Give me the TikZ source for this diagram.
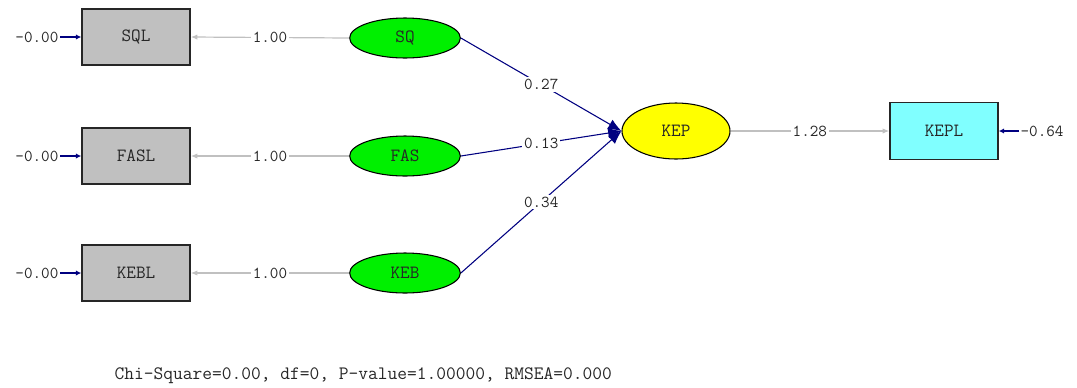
\documentclass[tikz,border=0pt]{standalone}
\usetikzlibrary{arrows.meta,shapes.geometric}
\definecolor{boxgray}{HTML}{C0C0C0}
\definecolor{latgreen}{HTML}{00F000}
\definecolor{latyellow}{HTML}{FFFF00}
\definecolor{obscyan}{HTML}{80FFFF}
\definecolor{navy}{HTML}{000080}
\definecolor{loadgray}{HTML}{C0C0C0}
\begin{document}
\begin{tikzpicture}[x=0.75pt,y=-0.75pt,
  every node/.style={font=\ttfamily\fontsize{12.5}{13}\selectfont,text=black!85},
  bigtext/.style={font=\ttfamily\fontsize{14}{15}\selectfont},
  obsbox/.style={bigtext,draw=black!85,line width=1.1pt,minimum width=81pt,minimum height=42pt,inner sep=0pt},
  latent/.style={bigtext,ellipse,draw=black,line width=0.8pt,minimum width=83pt,minimum height=30pt,inner sep=0pt,fill=latgreen},
  loading/.style={draw=loadgray,line width=0.9pt,-{Latex[length=5pt,width=4pt]}},
  path/.style={draw=navy,line width=0.8pt,-{Latex[length=10pt,width=8pt]}},
  err/.style={draw=navy,line width=1.6pt,-{Latex[length=4pt,width=4pt]}},
  lbl/.style={fill=white,inner sep=1.5pt},
  errlbl/.style={inner sep=1pt}]
\useasboundingbox (0,0) rectangle (1077,387);

% observed
\node[obsbox,fill=boxgray] (SQL) at (136,37) {SQL};
\node[obsbox,fill=boxgray] (FASL) at (136,156) {FASL};
\node[obsbox,fill=boxgray] (KEBL) at (136,273) {KEBL};
\node[obsbox,fill=obscyan,minimum height=43pt] (KEPL) at (944,131) {KEPL};

% latent
\node[latent] (SQ) at (405,38) {SQ};
\node[latent] (FAS) at (405,156) {FAS};
\node[latent] (KEB) at (405,273) {KEB};
\node[latent,fill=latyellow,minimum width=81pt,minimum height=42pt] (KEP) at (676,131) {KEP};

% error coordinates
\coordinate (eSQL) at (60,37);
\coordinate (eFASL) at (60,156);
\coordinate (eKEBL) at (60,273);
\coordinate (eKEPL) at (1019,131);

\draw[err] (eSQL) -- (SQL.west);
\draw[err] (eFASL) -- (FASL.west);
\draw[err] (eKEBL) -- (KEBL.west);
\draw[err] (eKEPL) -- (KEPL.east);
\node[errlbl,anchor=east] (lSQL) at (eSQL) {-0.00};
\node[errlbl,anchor=east] (lFASL) at (eFASL) {-0.00};
\node[errlbl,anchor=east] (lKEBL) at (eKEBL) {-0.00};
\node[errlbl,anchor=west] (lKEPL) at (eKEPL) {-0.64};

% loadings
\draw[loading] (SQ.west) -- node[lbl] (l1) {1.00} (SQL.east);
\draw[loading] (FAS.west) -- node[lbl] (l2) {1.00} (FASL.east);
\draw[loading] (KEB.west) -- node[lbl] (l3) {1.00} (KEBL.east);
\draw[loading] (KEP.east) -- node[lbl] (l4) {1.28} (KEPL.west);

% structural paths
\draw[path] (SQ.east) -- node[lbl] (p1) {0.27} (KEP.west);
\draw[path] (FAS.east) -- node[lbl] (p2) {0.13} (KEP.west);
\draw[path] (KEB.east) -- node[lbl] (p3) {0.34} (KEP.west);

% fit
\node[anchor=west,font=\ttfamily\fontsize{14.2}{15}\selectfont] (fit) at (110,376) {Chi-Square=0.00, df=0, P-value=1.00000, RMSEA=0.000};
\end{tikzpicture}
\end{document}
